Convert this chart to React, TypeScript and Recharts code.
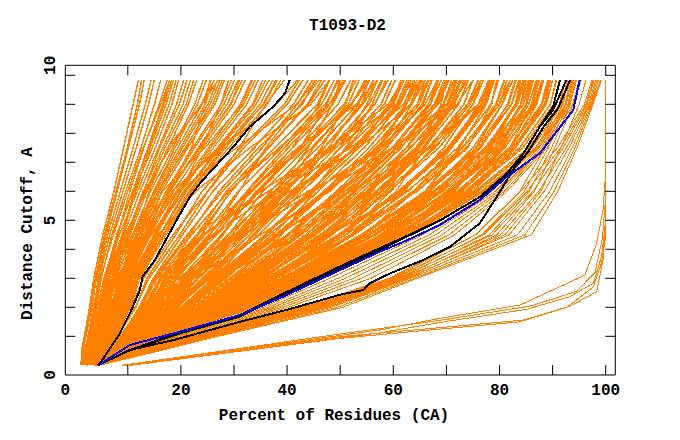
import React from 'react';
import { ScatterChart, Scatter, XAxis, YAxis } from 'recharts';

// Distance cutoff levels (Angstrom) at which each orange model curve is sampled
const LEVELS = [0, 0.5, 1, 2, 3, 4.5, 6, 7.5, 9, 9.84];

// Percent of residues at each LEVEL — steep models on the left
const leftBundle: number[][] = [
  [1.2, 1.3, 1.8, 2.8, 3.6, 5.3, 7.4, 9.2, 11.0, 12.0],
  [1.4, 1.6, 2.1, 3.2, 4.1, 5.9, 8.0, 10.1, 12.2, 13.1],
  [1.6, 1.9, 2.5, 3.5, 4.6, 6.6, 9.1, 11.6, 13.9, 15.0],
  [1.8, 2.2, 2.9, 4.1, 5.0, 7.0, 9.6, 12.5, 15.0, 16.2],
  [2.0, 2.5, 3.2, 4.6, 5.8, 8.1, 10.4, 13.0, 15.9, 17.4],
  [2.2, 2.8, 3.5, 4.9, 6.1, 8.9, 11.2, 14.6, 17.8, 19.1],
  [2.0, 2.6, 3.8, 5.3, 6.5, 9.2, 12.3, 15.8, 19.2, 20.5],
  [2.4, 3.1, 4.0, 5.6, 6.9, 9.8, 12.9, 16.6, 20.4, 21.8],
  [2.6, 3.3, 4.4, 6.1, 7.4, 10.4, 13.6, 17.6, 21.4, 23.0],
  [2.3, 3.4, 4.6, 6.4, 7.8, 10.9, 14.3, 18.5, 22.6, 24.2],
  [2.8, 3.7, 4.9, 6.8, 8.2, 11.5, 15.0, 19.4, 24.0, 25.7],
  [3.0, 3.9, 5.2, 7.1, 8.6, 12.0, 15.7, 20.3, 25.1, 26.9],
  [2.9, 4.1, 5.5, 7.5, 9.0, 12.6, 16.4, 21.3, 26.4, 28.2],
  [3.2, 4.3, 5.8, 7.9, 9.4, 13.1, 17.2, 22.2, 27.6, 29.5],
  [3.3, 4.6, 6.1, 8.3, 9.8, 13.8, 17.8, 23.3, 28.7, 30.8],
  [3.5, 4.8, 6.4, 8.6, 10.2, 14.3, 18.6, 24.1, 30.0, 32.1],
  [3.6, 5.0, 6.7, 9.0, 10.6, 14.9, 19.3, 25.2, 31.2, 33.3],
  [3.8, 5.3, 7.0, 9.4, 11.0, 15.4, 20.0, 26.1, 32.4, 34.6],
  [3.9, 5.5, 7.3, 9.8, 11.5, 16.0, 20.8, 27.1, 33.7, 36.0],
  [4.0, 5.7, 7.6, 10.2, 11.9, 16.6, 21.5, 28.0, 34.9, 37.3],
  [4.1, 6.0, 7.9, 10.5, 12.3, 17.2, 22.1, 29.0, 36.3, 38.8],
  [2.5, 3.0, 3.9, 5.0, 6.0, 8.4, 11.8, 15.2, 18.3, 19.6],
  [1.5, 2.0, 2.7, 3.9, 4.8, 7.3, 10.0, 12.9, 16.2, 17.9],
  [3.1, 4.0, 5.0, 6.6, 7.6, 10.2, 13.1, 18.0, 23.8, 26.3],
  [2.7, 3.5, 4.5, 6.0, 7.0, 10.8, 15.8, 21.0, 25.5, 27.4],
  [3.4, 4.4, 5.9, 8.1, 9.9, 14.0, 19.1, 26.9, 33.5, 35.4],
  [3.7, 4.9, 6.5, 8.8, 10.4, 15.0, 20.5, 27.7, 35.6, 38.2],
  [1.9, 2.3, 3.0, 4.3, 5.5, 8.0, 11.0, 14.0, 16.8, 18.3],
  [2.1, 2.9, 3.6, 5.4, 6.6, 9.5, 13.4, 17.0, 21.0, 22.4],
  [4.2, 5.9, 7.7, 10.0, 11.7, 16.2, 21.0, 27.4, 34.2, 36.6],
  [3.0, 4.2, 5.6, 7.6, 9.2, 12.9, 17.5, 23.7, 29.3, 31.6],
  [1.3, 1.5, 2.0, 3.0, 3.9, 5.6, 7.8, 9.9, 11.8, 12.6],
  [2.6, 3.6, 4.8, 6.5, 7.6, 11.1, 14.9, 18.9, 23.1, 24.8],
  [3.5, 4.6, 6.0, 8.0, 9.6, 13.5, 18.4, 27.5, 38.0, 42.0],
  [3.2, 4.4, 5.8, 7.8, 9.4, 13.0, 19.5, 30.5, 41.8, 45.5],
  [4.0, 5.4, 7.2, 9.6, 11.3, 15.7, 22.8, 33.0, 44.5, 48.0],
  [1.7, 2.0, 2.6, 3.7, 4.4, 6.2, 8.6, 11.0, 13.3, 14.4],
  [2.1, 2.7, 3.4, 4.8, 5.7, 7.9, 10.9, 13.8, 16.6, 17.9],
  [2.5, 3.2, 4.1, 5.8, 7.1, 10.1, 13.0, 16.0, 19.7, 21.2],
  [2.9, 3.8, 5.0, 6.9, 8.4, 11.8, 15.3, 19.9, 24.6, 26.2],
  [3.3, 4.5, 5.9, 8.0, 9.6, 13.4, 17.4, 22.6, 28.1, 30.1],
  [3.7, 5.1, 6.8, 9.2, 10.8, 15.1, 19.8, 25.6, 31.8, 34.0],
  [4.1, 5.8, 7.7, 10.3, 12.0, 16.8, 21.8, 28.4, 35.5, 37.9],
  [2.4, 3.0, 3.7, 5.1, 6.3, 9.0, 11.5, 14.2, 17.2, 18.6],
  [3.1, 4.1, 5.4, 7.3, 8.8, 12.3, 16.0, 20.8, 26.0, 27.8],
  [3.6, 4.7, 6.2, 8.4, 10.0, 14.0, 18.0, 23.5, 29.5, 31.0],
  [2.2, 2.8, 3.6, 5.5, 7.5, 11.5, 14.0, 17.5, 24.0, 27.0],
  [3.0, 4.0, 5.3, 7.2, 9.0, 14.5, 20.0, 24.0, 27.5, 29.0],
  [3.6, 5.0, 6.6, 8.7, 10.0, 13.0, 16.5, 24.5, 31.5, 33.5],
  [2.6, 3.4, 4.3, 6.2, 8.0, 12.0, 17.5, 22.0, 24.5, 25.5],
  [3.9, 5.6, 7.5, 10.6, 13.0, 18.5, 25.0, 31.0, 36.0, 39.5],
];

// Models in the central fan
const middleFan: number[][] = [
  [4.0, 5.8, 8.0, 11.5, 13.6, 19.0, 24.0, 31.2, 39.5, 42.3],
  [4.6, 6.4, 8.7, 12.2, 14.8, 20.3, 26.0, 33.8, 41.2, 44.0],
  [3.8, 6.0, 8.4, 12.7, 15.4, 21.6, 27.2, 34.6, 42.9, 45.3],
  [4.5, 6.6, 9.3, 13.9, 16.9, 23.3, 29.5, 36.5, 44.0, 47.1],
  [4.1, 6.3, 9.1, 14.3, 17.6, 24.5, 30.8, 38.9, 46.5, 48.9],
  [4.6, 6.9, 9.8, 15.2, 18.9, 26.1, 32.6, 40.2, 48.0, 50.6],
  [4.2, 6.5, 9.6, 15.8, 19.9, 27.6, 34.3, 42.3, 49.6, 52.0],
  [4.6, 7.1, 10.3, 16.6, 20.8, 28.9, 35.5, 43.6, 51.5, 53.6],
  [4.0, 6.8, 10.4, 17.2, 21.8, 30.2, 37.6, 45.8, 53.2, 55.5],
  [4.5, 7.1, 10.9, 18.1, 23.0, 31.5, 39.4, 47.0, 54.3, 57.0],
  [4.3, 7.0, 11.0, 18.8, 24.0, 33.0, 40.9, 49.2, 56.6, 58.6],
  [4.6, 7.3, 11.3, 19.5, 25.1, 34.6, 42.9, 51.2, 58.3, 60.4],
  [4.2, 7.1, 11.5, 20.0, 26.1, 35.8, 44.3, 52.5, 59.8, 61.9],
  [4.6, 7.4, 11.8, 20.8, 27.0, 37.2, 45.8, 54.5, 61.3, 63.4],
  [4.4, 7.3, 12.0, 21.5, 28.1, 38.6, 47.6, 56.2, 63.2, 65.1],
  [4.6, 7.6, 12.3, 22.3, 29.1, 40.0, 49.3, 58.0, 64.9, 66.7],
  [4.3, 7.4, 12.5, 23.0, 30.0, 41.4, 51.0, 59.8, 66.6, 68.4],
  [4.5, 7.7, 12.8, 23.6, 31.2, 42.7, 52.6, 61.4, 68.3, 70.2],
  [4.4, 7.6, 13.0, 24.4, 32.0, 44.2, 54.3, 63.3, 70.1, 71.8],
  [4.6, 7.9, 13.3, 25.1, 33.1, 45.4, 55.7, 64.9, 71.4, 73.4],
  [4.5, 7.8, 13.5, 25.8, 34.1, 46.9, 57.6, 66.7, 73.3, 75.0],
  [4.6, 8.0, 13.7, 26.5, 35.1, 48.4, 59.2, 68.6, 75.0, 76.5],
  [4.4, 7.9, 13.9, 27.1, 36.1, 49.7, 61.0, 70.2, 76.5, 78.1],
  [4.6, 8.1, 14.2, 27.9, 37.1, 51.1, 62.7, 72.1, 78.4, 79.8],
  [4.5, 8.1, 14.4, 28.7, 38.1, 52.6, 64.3, 73.7, 80.0, 81.4],
  [4.6, 8.2, 14.6, 29.3, 39.2, 53.9, 66.0, 75.6, 81.7, 83.1],
  [4.4, 8.2, 14.9, 30.1, 40.1, 55.3, 67.7, 77.3, 83.4, 84.8],
  [4.6, 8.3, 15.2, 30.8, 41.2, 56.7, 69.3, 79.1, 85.1, 86.4],
  [4.5, 8.4, 15.4, 31.4, 42.2, 58.1, 70.9, 80.8, 86.8, 88.0],
  [4.6, 8.5, 15.7, 32.1, 43.2, 59.5, 72.6, 82.5, 88.5, 89.6],
  [4.4, 8.6, 15.9, 32.8, 44.2, 60.9, 74.2, 84.4, 90.2, 91.3],
  [4.5, 8.6, 16.2, 33.5, 45.2, 62.3, 75.9, 86.1, 91.8, 92.8],
  [4.4, 8.7, 16.3, 34.0, 46.0, 63.3, 77.1, 87.3, 93.0, 94.0],
  [3.6, 5.5, 7.6, 11.4, 14.0, 19.8, 25.1, 31.8, 40.0, 43.0],
  [4.4, 6.2, 8.5, 12.6, 15.0, 21.2, 27.8, 35.3, 41.9, 44.8],
  [3.9, 6.1, 8.9, 13.5, 17.3, 23.9, 29.3, 37.7, 45.7, 48.0],
  [4.4, 6.6, 9.4, 15.0, 18.4, 25.4, 32.4, 39.5, 47.2, 49.8],
  [4.6, 6.9, 9.7, 16.1, 20.6, 27.9, 34.1, 43.0, 50.8, 53.0],
  [4.1, 6.7, 10.1, 17.0, 21.3, 29.6, 36.9, 44.6, 52.2, 54.7],
  [4.6, 7.0, 10.6, 18.5, 23.3, 32.3, 39.7, 48.3, 55.4, 57.8],
  [4.2, 7.2, 11.2, 19.0, 24.8, 33.8, 42.2, 50.1, 57.7, 59.7],
  [4.6, 7.3, 11.4, 20.4, 26.6, 36.0, 45.0, 53.5, 60.6, 62.6],
  [4.3, 7.2, 11.9, 21.2, 27.6, 38.2, 47.0, 55.4, 62.4, 64.5],
  [4.6, 7.5, 12.2, 22.4, 29.4, 40.3, 49.9, 58.7, 65.6, 67.3],
  [4.2, 7.6, 12.7, 23.3, 30.5, 42.2, 51.8, 60.8, 67.7, 69.6],
  [4.6, 7.8, 12.9, 24.0, 31.6, 43.6, 53.6, 62.5, 69.4, 71.0],
  [4.4, 7.7, 13.4, 25.5, 33.5, 46.2, 56.7, 65.8, 72.3, 74.1],
  [4.6, 7.9, 13.6, 26.2, 34.7, 47.8, 58.6, 67.9, 74.4, 76.0],
  [4.6, 8.0, 14.1, 27.5, 36.5, 50.3, 61.6, 71.0, 77.3, 78.9],
  [4.4, 8.0, 14.3, 28.3, 37.7, 52.0, 63.7, 73.1, 79.3, 80.9],
  [4.6, 8.2, 14.7, 29.6, 39.5, 54.4, 66.7, 76.3, 82.3, 83.8],
  [4.5, 8.3, 15.1, 30.5, 40.8, 56.2, 68.7, 78.4, 84.4, 85.8],
  [4.6, 8.4, 15.3, 31.2, 41.8, 57.6, 70.3, 80.2, 86.2, 87.5],
  [4.4, 8.5, 15.6, 31.9, 42.9, 59.1, 72.1, 81.9, 87.9, 89.1],
  [4.6, 8.5, 15.8, 32.6, 43.9, 60.4, 73.7, 83.8, 89.6, 90.7],
  [4.5, 8.6, 16.1, 33.3, 44.9, 61.8, 75.4, 85.5, 91.3, 92.4],
  [4.4, 8.7, 16.2, 33.8, 45.6, 62.8, 76.6, 86.8, 92.5, 93.6],
  [4.2, 6.4, 9.2, 13.6, 16.4, 23.0, 28.6, 36.4, 43.8, 46.5],
  [4.5, 6.8, 9.9, 15.4, 19.2, 26.6, 33.2, 41.0, 48.6, 51.0],
  [4.3, 7.0, 10.6, 17.8, 22.5, 31.0, 38.5, 46.9, 54.0, 56.3],
  [4.6, 7.2, 11.4, 20.1, 26.0, 36.0, 44.5, 52.8, 60.0, 62.0],
  [4.4, 7.5, 12.2, 22.5, 29.4, 40.5, 50.0, 58.6, 65.4, 67.2],
  [4.5, 7.7, 13.1, 24.8, 32.7, 45.1, 55.4, 64.5, 71.1, 72.8],
  [4.3, 7.9, 13.8, 27.0, 36.0, 49.6, 60.9, 70.3, 76.6, 78.3],
  [4.6, 8.2, 14.6, 29.5, 39.4, 54.3, 66.5, 76.1, 82.2, 83.7],
  [4.4, 8.4, 15.5, 31.8, 42.7, 58.9, 72.0, 81.9, 88.0, 89.2],
];

// Models whose slope changes, crossing their neighbours
const crossingLines: number[][] = [
  [4.2, 6.8, 10.0, 16.0, 21.5, 32.0, 45.0, 57.0, 64.5, 66.5],
  [4.5, 7.5, 12.5, 24.0, 30.0, 39.0, 45.0, 51.0, 56.0, 58.0],
  [4.0, 6.5, 9.5, 14.0, 18.0, 26.0, 38.0, 52.0, 62.0, 64.0],
  [4.6, 7.8, 13.5, 26.5, 34.5, 45.0, 52.5, 58.5, 63.5, 65.5],
  [4.3, 6.6, 9.2, 13.0, 16.5, 24.5, 35.0, 48.0, 59.0, 62.0],
  [4.6, 8.0, 14.0, 27.5, 37.5, 52.0, 60.5, 66.0, 70.5, 72.0],
  [4.1, 6.4, 9.0, 14.5, 19.5, 30.5, 44.0, 60.0, 72.0, 75.0],
  [4.5, 7.6, 12.8, 24.5, 33.5, 48.0, 62.5, 73.0, 80.0, 82.0],
  [4.2, 6.9, 10.5, 18.5, 25.0, 38.0, 52.0, 66.5, 76.0, 78.5],
  [4.6, 7.2, 11.0, 19.0, 24.5, 33.0, 40.0, 46.5, 51.0, 52.5],
  [4.4, 7.9, 13.8, 27.0, 35.5, 47.0, 55.0, 62.5, 68.0, 70.0],
  [3.9, 6.3, 9.4, 15.5, 20.5, 30.0, 40.5, 53.5, 63.5, 66.0],
  [4.6, 8.3, 15.0, 30.5, 41.0, 56.5, 66.0, 72.5, 77.5, 79.0],
  [4.3, 7.0, 11.2, 20.0, 27.5, 41.5, 55.0, 67.0, 74.5, 76.5],
  [4.4, 6.9, 10.2, 17.0, 22.0, 30.5, 38.0, 44.0, 48.5, 50.0],
  [4.5, 6.6, 9.6, 14.8, 18.5, 26.8, 34.8, 42.5, 47.5, 49.5],
  [4.3, 7.1, 11.0, 18.5, 24.2, 34.0, 41.2, 47.8, 53.5, 55.5],
  [4.6, 7.4, 11.9, 21.8, 28.5, 38.0, 46.8, 56.8, 64.5, 66.0],
  [4.4, 7.8, 13.2, 25.0, 32.0, 43.5, 53.0, 61.5, 67.0, 69.0],
  [4.5, 8.0, 14.0, 27.2, 35.5, 47.5, 57.0, 66.5, 74.0, 76.0],
  [4.3, 8.3, 15.0, 30.2, 40.5, 54.5, 64.0, 71.0, 76.0, 78.0],
  [4.4, 7.6, 12.6, 23.8, 31.0, 42.0, 51.5, 60.5, 68.5, 70.5],
  [4.5, 7.3, 11.6, 20.8, 27.2, 37.8, 47.5, 57.5, 66.0, 68.3],
  [4.2, 6.9, 10.4, 17.5, 22.3, 31.8, 41.5, 51.5, 59.5, 61.5],
  [4.6, 6.7, 9.5, 14.6, 18.0, 25.2, 33.0, 42.8, 52.0, 55.0],
  [4.1, 6.4, 9.0, 13.2, 16.2, 22.0, 29.0, 38.5, 48.0, 51.0],
  [4.0, 6.0, 8.5, 12.5, 15.5, 23.0, 33.5, 41.0, 46.0, 48.0],
  [4.3, 6.8, 10.0, 16.5, 21.0, 28.0, 33.0, 42.0, 53.0, 57.0],
  [4.5, 7.4, 12.0, 21.0, 26.5, 33.5, 41.5, 53.0, 61.0, 63.0],
  [4.2, 6.5, 9.4, 15.0, 20.0, 30.0, 42.0, 50.0, 55.0, 57.0],
  [4.6, 7.9, 13.5, 26.0, 33.0, 41.0, 49.5, 60.0, 70.0, 73.0],
  [4.4, 7.2, 11.3, 20.5, 27.5, 40.0, 50.5, 57.5, 62.5, 64.0],
  [4.1, 6.2, 8.8, 13.0, 16.0, 24.0, 36.5, 48.5, 56.5, 59.0],
  [4.5, 7.6, 12.6, 24.0, 32.5, 46.5, 58.0, 65.0, 69.0, 70.0],
  [4.3, 6.9, 10.4, 17.8, 22.0, 29.0, 37.5, 49.0, 60.5, 64.0],
  [4.6, 8.1, 14.2, 28.5, 38.0, 51.0, 59.5, 67.5, 76.0, 79.0],
  [4.4, 8.4, 15.3, 31.5, 43.0, 58.0, 66.0, 73.0, 79.5, 81.0],
  [4.5, 8.0, 13.8, 27.0, 36.5, 51.0, 64.5, 74.0, 78.5, 79.5],
  [4.2, 6.6, 9.8, 16.0, 21.0, 31.0, 39.0, 45.0, 52.0, 55.5],
  [4.0, 6.3, 9.0, 14.0, 17.5, 25.5, 31.0, 36.0, 42.5, 46.0],
  [4.6, 7.3, 11.5, 21.0, 27.0, 36.5, 47.0, 60.0, 67.0, 68.5],
  [4.3, 7.7, 13.2, 25.5, 34.0, 47.0, 56.0, 63.0, 72.0, 75.0],
  [4.4, 8.2, 14.8, 30.0, 40.5, 55.5, 68.5, 75.5, 80.5, 82.5],
  [4.5, 8.5, 15.8, 32.5, 44.0, 60.0, 71.0, 80.0, 84.0, 85.0],
  [4.1, 6.7, 10.0, 16.5, 22.5, 35.0, 48.0, 57.0, 62.5, 65.0],
  [4.6, 7.0, 10.8, 19.0, 25.5, 38.5, 50.0, 61.0, 71.0, 74.0],
];

// Extra models in the dense band just above the blue curve
const denseLines: number[][] = [
  [4.5, 8.6, 16.0, 33.0, 44.5, 60.0, 71.0, 79.0, 84.0, 85.5],
  [4.4, 8.4, 15.5, 31.5, 42.0, 56.5, 67.0, 75.0, 80.5, 82.0],
  [4.6, 8.7, 16.3, 33.8, 45.5, 61.5, 73.0, 81.0, 86.5, 88.0],
  [4.5, 8.5, 15.8, 32.5, 43.0, 57.5, 68.5, 76.5, 81.5, 83.0],
  [4.4, 8.3, 15.0, 30.0, 39.5, 52.5, 62.0, 69.5, 75.0, 77.0],
  [4.6, 8.6, 16.1, 33.2, 44.0, 58.5, 69.0, 77.5, 83.0, 84.5],
  [4.5, 8.2, 14.6, 29.0, 38.0, 50.0, 58.5, 65.5, 71.5, 73.5],
  [4.5, 8.5, 15.9, 32.8, 44.8, 61.0, 72.5, 80.5, 85.5, 87.0],
  [4.4, 8.1, 14.3, 28.2, 36.8, 48.5, 57.5, 64.5, 69.5, 71.5],
  [4.6, 8.7, 16.4, 34.2, 46.2, 63.0, 75.0, 83.0, 88.0, 89.5],
  [4.6, 8.6, 16.0, 33.0, 44.0, 59.0, 70.0, 79.5, 85.5, 87.0],
  [4.4, 8.5, 15.6, 32.0, 43.5, 60.0, 71.5, 78.5, 83.0, 84.0],
  [4.5, 8.7, 16.3, 33.9, 45.8, 62.5, 74.5, 82.0, 86.0, 87.2],
  [4.3, 8.1, 14.5, 29.0, 38.8, 54.0, 67.5, 78.0, 84.5, 86.0],
  [4.6, 8.4, 15.4, 31.0, 42.0, 58.0, 70.8, 80.0, 85.0, 86.0],
  [4.4, 8.6, 16.1, 33.5, 45.0, 61.5, 73.5, 83.0, 88.8, 90.0],
  [4.5, 8.5, 15.9, 32.9, 44.3, 60.5, 72.8, 82.2, 87.0, 88.3],
  [4.3, 8.2, 14.8, 29.9, 40.0, 55.0, 67.9, 77.8, 83.2, 84.5],
  [4.6, 8.0, 13.9, 27.2, 36.3, 50.0, 61.2, 70.6, 77.0, 78.6],
  [4.4, 7.7, 13.0, 24.6, 32.3, 44.6, 55.0, 64.2, 70.8, 72.5],
];

// Models below the blue curve
const lowerFan: number[][] = [
  [4.4, 8.9, 17.0, 35.5, 48.0, 65.5, 78.5, 87.0, 91.5, 92.3],
  [4.5, 9.1, 17.6, 36.4, 49.6, 66.8, 79.2, 87.5, 92.0, 92.9],
  [4.4, 9.3, 18.2, 37.3, 51.0, 68.0, 79.8, 87.9, 92.5, 93.5],
  [4.6, 9.5, 18.8, 38.2, 52.5, 69.2, 80.3, 88.2, 92.9, 94.0],
  [4.5, 9.7, 19.5, 39.2, 54.0, 70.5, 80.9, 88.6, 93.3, 94.5],
  [4.4, 9.9, 20.3, 40.2, 55.8, 71.6, 81.4, 89.0, 93.8, 95.0],
  [4.5, 10.5, 21.8, 42.5, 59.2, 75.5, 84.0, 90.9, 96.0, 97.4],
  [4.6, 11.2, 22.5, 43.5, 60.0, 77.0, 85.2, 91.5, 96.3, 97.6],
  [4.5, 12.0, 23.2, 44.6, 60.8, 78.6, 86.3, 92.0, 96.5, 97.8],
  [4.6, 12.8, 24.0, 45.8, 61.6, 80.2, 87.4, 92.6, 96.8, 98.1],
  [4.5, 13.6, 24.8, 47.0, 62.4, 81.8, 88.4, 93.1, 97.0, 98.4],
  [4.6, 14.5, 25.6, 48.3, 63.2, 83.4, 89.5, 93.7, 97.2, 98.7],
  [4.6, 15.3, 26.3, 49.5, 64.0, 84.8, 90.3, 94.2, 97.4, 99.0],
  [4.6, 16.0, 27.0, 50.5, 64.5, 86.0, 91.0, 94.6, 97.6, 99.2],
  [4.5, 10.8, 22.1, 43.0, 59.6, 75.5, 83.8, 88.6, 92.4, 93.2],
  [4.6, 11.6, 22.9, 44.0, 60.4, 76.7, 84.7, 89.2, 92.9, 93.8],
  [4.5, 12.4, 23.6, 45.2, 61.2, 78.1, 85.6, 89.8, 93.3, 94.3],
  [4.6, 13.2, 24.4, 46.4, 62.0, 79.5, 86.6, 90.4, 93.9, 95.4],
  [4.5, 14.0, 25.2, 47.6, 62.8, 81.0, 87.8, 91.6, 95.0, 96.3],
];

// The separate group along the bottom: [percent, cutoff] pairs
const bottomGroup: number[][][] = [
  [[8.9, 0], [57.5, 1.22], [68.8, 1.62], [83.9, 2.08], [96.1, 3.11], [98.3, 4.21], [99.5, 5.36], [99.9, 6.39], [99.9, 9.84]],
  [[9.5, 0], [57.5, 1.12], [68.8, 1.48], [85.1, 1.93], [93.3, 2.37], [97.7, 2.83], [99.2, 3.74], [99.9, 4.78], [99.9, 9.84]],
  [[10.2, 0], [50.0, 0.99], [68.8, 1.3], [84.5, 1.56], [93.3, 2.04], [98.3, 2.54], [99.5, 3.63], [99.9, 4.9], [99.9, 9.84]],
  [[10.6, 0], [50.0, 0.93], [68.8, 1.25], [83.8, 1.5], [92.7, 2.0], [97.7, 2.71], [99.2, 3.52], [99.9, 4.32], [99.9, 9.84]],
  [[9.0, 0], [50.0, 1.08], [68.8, 1.55], [86.0, 2.05], [94.5, 2.55], [98.0, 3.2], [99.4, 4.4], [99.9, 5.6], [99.9, 9.84]],
];

// Highlighted models: [percent, cutoff] pairs
const blackLeft: number[][] = [
  [4.3, 0], [4.8, 0.07], [8.5, 1.1], [10.4, 1.79], [12.3, 2.6], [12.8, 3.06], [15.1, 3.63], [19.2, 5.01],
  [21.7, 5.81], [23.6, 6.28], [29.9, 7.54], [33.0, 8.23], [37.4, 8.92], [39.6, 9.38], [40.5, 9.84],
];
const blackMidA: number[][] = [
  [4.4, 0], [9.8, 0.47], [19.8, 1.1], [31.1, 1.68], [39.9, 2.48], [49.9, 3.34], [57.5, 3.98], [62.5, 4.43],
  [68.8, 5.0], [76.3, 5.81], [81.4, 6.62], [84.5, 7.31], [87.6, 8.23], [90.1, 8.8], [92.6, 9.84],
];
const blackMidB: number[][] = [
  [4.4, 0], [10.0, 0.5], [19.6, 1.13], [31.0, 1.72], [39.6, 2.5], [49.6, 3.38], [57.2, 4.02], [62.8, 4.48],
  [69.3, 5.05], [76.8, 5.86], [82.0, 6.62], [85.4, 7.36], [88.4, 8.25], [91.0, 8.85], [93.3, 9.84],
];
const blackLow: number[][] = [
  [4.4, 0], [10.4, 0.53], [18.6, 0.87], [31.1, 1.5], [39.9, 1.91], [49.9, 2.43], [54.4, 2.6], [55.6, 2.83],
  [59.4, 3.17], [65.6, 3.63], [70.7, 4.09], [76.3, 4.9], [79.5, 5.81], [81.4, 6.39], [84.5, 7.31],
  [87.6, 8.23], [90.1, 8.92], [91.4, 9.84],
];
const blueLine: number[][] = [
  [4.4, 0], [10.4, 0.7], [19.8, 1.16], [31.1, 1.73], [39.9, 2.42], [49.9, 3.28], [57.5, 3.92], [62.2, 4.28],
  [68.8, 4.84], [76.3, 5.7], [81.4, 6.5], [87.6, 7.31], [93.9, 8.8], [95.1, 9.84],
];

const xTicks = [-1.77, 10, 20, 30, 40, 50, 60, 70, 80, 90, 100];
const xTickLabels = ['0', '', '20', '', '40', '', '60', '', '80', '', '100'];
const yTicks = [-0.334, 1, 2, 3, 4, 5, 6, 7, 8, 9, 10, 10.345];
const yTickLabels = ['0', '', '', '', '', '5', '', '', '', '', '', '10'];

const TITLE = 'T1093-D2';
const X_TITLE = 'Percent of Residues (CA)';
const Y_TITLE = 'Distance Cutoff, A';

const ORANGE = '#ff8000';
const FONT = '"Liberation Mono", "Courier New", monospace';
const X_DOMAIN: [number, number] = [-1.77, 101.81];
const Y_DOMAIN: [number, number] = [-0.334, 10.345];

const W = 664;
const H = 424;

const levelPts = (xs: number[]) => xs.map((x, i) => ({ x, y: LEVELS[i] }));
const pairPts = (p: number[][]) => p.map(([x, y]) => ({ x, y }));

const NoDot = () => <g />;

const labelStyle = { fontFamily: FONT, fontSize: 16, fontWeight: 700, fill: '#000' } as const;

function BottomTick(props: any) {
  const { x, y, payload } = props;
  const i = xTicks.indexOf(payload.value);
  const label = xTickLabels[i];
  return (
    <g>
      {i > 0 && <line x1={x} y1={y} x2={x} y2={y - 10} stroke="#000" strokeWidth={1} />}
      {label ? (
        <text x={x} y={y + 20} textAnchor="middle" {...labelStyle}>
          {label}
        </text>
      ) : null}
    </g>
  );
}

function TopTick(props: any) {
  const { x, y } = props;
  return <line x1={x} y1={y} x2={x} y2={y + 10} stroke="#000" strokeWidth={1} />;
}

function LeftTick(props: any) {
  const { x, y, payload } = props;
  const i = yTicks.indexOf(payload.value);
  const label = yTickLabels[i];
  const lx = x - 10;
  return (
    <g>
      {i > 0 && i < yTicks.length - 1 && (
        <line x1={x} y1={y} x2={x + 10} y2={y} stroke="#000" strokeWidth={1} />
      )}
      {label ? (
        <text x={lx} y={y} textAnchor="middle" transform={`rotate(-90 ${lx} ${y})`} {...labelStyle}>
          {label}
        </text>
      ) : null}
    </g>
  );
}

function RightTick(props: any) {
  const { x, y } = props;
  return <line x1={x} y1={y} x2={x - 10} y2={y} stroke="#000" strokeWidth={1} />;
}

function curve(key: string, pts: { x: number; y: number }[], color: string, width: number) {
  return (
    <Scatter
      key={key}
      data={pts}
      xAxisId="b"
      yAxisId="l"
      fill={color}
      shape={NoDot}
      line={{ stroke: color, strokeWidth: width, shapeRendering: 'crispEdges' } as any}
      isAnimationActive={false}
      legendType="none"
    />
  );
}

export default function App() {
  return (
    <div style={{ position: 'relative', width: W, height: H }}>
      <ScatterChart width={W} height={H} margin={{ top: 56.3, left: 56.3, right: 55.7, bottom: 56 }}>
        <XAxis
          xAxisId="b"
          dataKey="x"
          type="number"
          domain={X_DOMAIN}
          allowDataOverflow
          ticks={xTicks}
          interval={0}
          height={1}
          tickSize={0}
          tickMargin={0}
          tickLine={false}
          axisLine={{ stroke: '#000', strokeWidth: 1 }}
          tick={<BottomTick />}
        />
        <XAxis
          xAxisId="t"
          orientation="top"
          dataKey="x"
          type="number"
          domain={X_DOMAIN}
          allowDataOverflow
          ticks={xTicks.slice(1)}
          interval={0}
          height={1}
          tickSize={0}
          tickMargin={0}
          tickLine={false}
          axisLine={{ stroke: '#000', strokeWidth: 1 }}
          tick={<TopTick />}
        />
        <YAxis
          yAxisId="l"
          dataKey="y"
          type="number"
          domain={Y_DOMAIN}
          allowDataOverflow
          ticks={yTicks}
          interval={0}
          width={1}
          tickSize={0}
          tickMargin={0}
          tickLine={false}
          axisLine={{ stroke: '#000', strokeWidth: 1 }}
          tick={<LeftTick />}
        />
        <YAxis
          yAxisId="r"
          orientation="right"
          dataKey="y"
          type="number"
          domain={Y_DOMAIN}
          allowDataOverflow
          ticks={yTicks.slice(1, 11)}
          interval={0}
          width={1}
          tickSize={0}
          tickMargin={0}
          tickLine={false}
          axisLine={{ stroke: '#000', strokeWidth: 1 }}
          tick={<RightTick />}
        />
        {leftBundle.map((xs, i) => curve(`l${i}`, levelPts(xs), ORANGE, 1.4))}
        {middleFan.map((xs, i) => curve(`m${i}`, levelPts(xs), ORANGE, 1.6))}
        {crossingLines.map((xs, i) => curve(`c${i}`, levelPts(xs), ORANGE, 1.6))}
        {denseLines.map((xs, i) => curve(`d${i}`, levelPts(xs), ORANGE, 1.6))}
        {lowerFan.map((xs, i) => curve(`r${i}`, levelPts(xs), ORANGE, 1))}
        {bottomGroup.map((p, i) => curve(`g${i}`, pairPts(p), ORANGE, 1))}
        {curve('k1', pairPts(blackLeft), '#000', 2)}
        {curve('k2', pairPts(blackLow), '#000', 2)}
        {curve('k3', pairPts(blackMidB), '#000', 2)}
        {curve('k4', pairPts(blackMidA), '#000', 2)}
        {curve('blue', pairPts(blueLine), '#0000ff', 2)}
      </ScatterChart>
      <svg
        width={W}
        height={H}
        style={{ position: 'absolute', left: 0, top: 0, pointerEvents: 'none' }}
      >
        <text x={339.5} y={22} textAnchor="middle" {...labelStyle}>
          {TITLE}
        </text>
        <text x={326} y={412} textAnchor="middle" {...labelStyle}>
          {X_TITLE}
        </text>
        <text x={23.7} y={225.5} textAnchor="middle" transform="rotate(-90 23.7 225.5)" {...labelStyle}>
          {Y_TITLE}
        </text>
      </svg>
    </div>
  );
}
